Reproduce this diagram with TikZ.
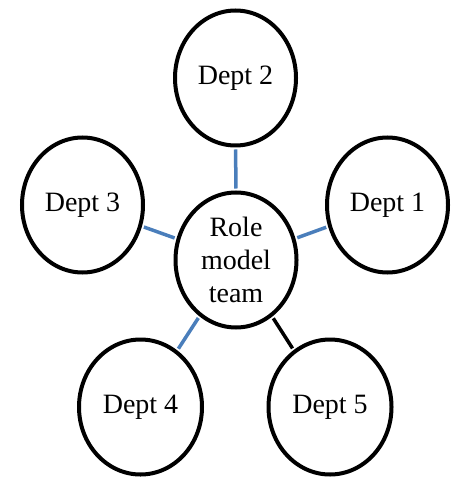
\documentclass[tikz,border=0pt]{standalone}
\usepackage{fontspec}
\setmainfont{Liberation Serif}
\usetikzlibrary{shapes.geometric}
\definecolor{linkblue}{RGB}{74,126,187}
\begin{document}
\begin{tikzpicture}[x=1pt,y=-1pt]

    \tikzset{
      dept/.style={
        ellipse,
        draw,
        line width=4pt,
        inner sep=0pt,
        minimum width=121pt,
        minimum height=135pt,
        font=\fontsize{28}{33}\selectfont,
        align=center,
      },
      link/.style={
        line width=3.5pt,
        shorten >=2pt,
        shorten <=2pt,
      },
    }
    \useasboundingbox (0,0) rectangle (452,478);
	\node[dept] (team) at (236,260) {Role\\model\\team};
	\node[dept] (dept2) at (235.5,78) {Dept 2};
	\node[dept] (dept3) at (82.5,205) {Dept 3};
	\node[dept] (dept1) at (387.5,205) {Dept 1};
	\node[dept,minimum width=123pt] (dept4) at (140.5,407) {Dept 4};
	\node[dept,minimum width=123pt] (dept5) at (330,407) {Dept 5};
	\draw[link,color=linkblue] (team)--(dept2);
	\draw[link,color=linkblue] (team)--(dept3);
	\draw[link,color=linkblue] (team)--(dept1);
	\draw[link,color=linkblue] (team)--(dept4);
	\draw[link,color=black] (team)--(dept5);

\end{tikzpicture}
\end{document}
